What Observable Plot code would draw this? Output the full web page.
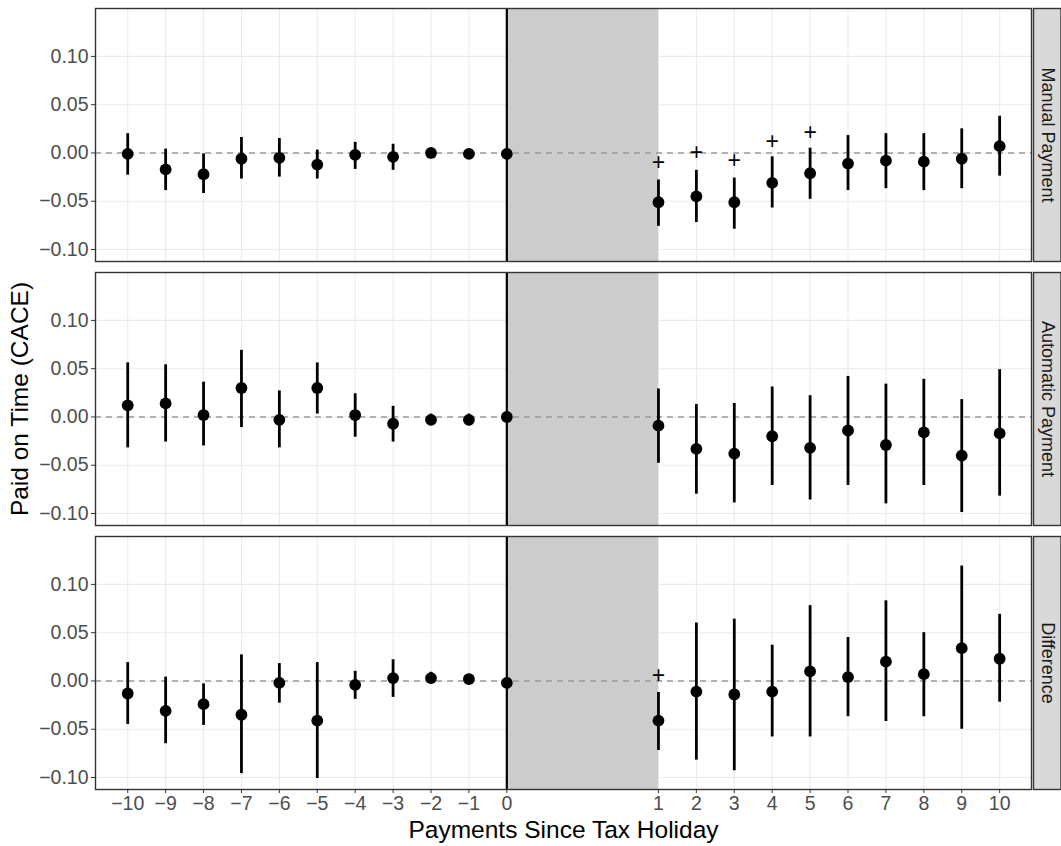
<!DOCTYPE html>
<html>
<head>
<meta charset="utf-8">
<script src="https://cdn.jsdelivr.net/npm/d3@7"></script>
<script src="https://cdn.jsdelivr.net/npm/@observablehq/plot@0.6"></script>
<style>
  html, body { margin: 0; padding: 0; background: #fff; }
  #chart { width: 1061px; height: 846px; }
</style>
</head>
<body>
<div id="chart"></div>
<script>
// ---- Data ----
const panels = ["Manual Payment", "Automatic Payment", "Difference"];
const periods = [-10, -9, -8, -7, -6, -5, -4, -3, -2, -1, 0, 1, 2, 3, 4, 5, 6, 7, 8, 9, 10];

const manualEst = [-0.001, -0.017, -0.022, -0.006, -0.005, -0.012, -0.002, -0.004, 0.000, -0.001, -0.001,
                   -0.051, -0.045, -0.051, -0.031, -0.021, -0.011, -0.008, -0.009, -0.006, 0.007];
const manualLo  = [-0.023, -0.039, -0.042, -0.027, -0.025, -0.027, -0.017, -0.018, -0.002, -0.003, null,
                   -0.076, -0.072, -0.079, -0.057, -0.048, -0.039, -0.037, -0.039, -0.037, -0.024];
const manualHi  = [0.020, 0.004, -0.001, 0.016, 0.015, 0.003, 0.011, 0.009, 0.002, 0.001, null,
                   -0.028, -0.018, -0.026, -0.004, 0.005, 0.018, 0.020, 0.020, 0.025, 0.038];

const autoEst = [0.012, 0.014, 0.002, 0.030, -0.003, 0.030, 0.002, -0.007, -0.003, -0.003, 0.000,
                 -0.009, -0.033, -0.038, -0.020, -0.032, -0.014, -0.029, -0.016, -0.040, -0.017];
const autoLo  = [-0.032, -0.026, -0.030, -0.011, -0.032, 0.003, -0.021, -0.026, -0.009, -0.009, null,
                 -0.048, -0.080, -0.089, -0.071, -0.086, -0.071, -0.090, -0.071, -0.099, -0.082];
const autoHi  = [0.056, 0.054, 0.036, 0.069, 0.027, 0.056, 0.024, 0.011, 0.003, 0.003, null,
                 0.029, 0.013, 0.014, 0.031, 0.022, 0.042, 0.034, 0.039, 0.018, 0.049];

const diffEst = [-0.013, -0.031, -0.024, -0.035, -0.002, -0.041, -0.004, 0.003, 0.003, 0.002, -0.002,
                 -0.041, -0.011, -0.014, -0.011, 0.010, 0.004, 0.020, 0.007, 0.034, 0.023];
const diffLo  = [-0.045, -0.065, -0.046, -0.096, -0.023, -0.101, -0.019, -0.017, -0.002, -0.003, null,
                 -0.072, -0.082, -0.093, -0.058, -0.058, -0.037, -0.042, -0.037, -0.050, -0.022];
const diffHi  = [0.019, 0.004, -0.003, 0.027, 0.018, 0.019, 0.010, 0.022, 0.009, 0.007, null,
                 -0.012, 0.060, 0.064, 0.037, 0.078, 0.045, 0.083, 0.050, 0.119, 0.069];

// significance markers ("+")
const manualPlusPeriods = [1, 2, 3, 4, 5];
const manualPlusY = [-0.010, 0.000, -0.008, 0.012, 0.021];
const diffPlusPeriods = [1];
const diffPlusY = [0.006];

const yTicks = [-0.10, -0.05, 0.00, 0.05, 0.10];
const yTickLabels = ["−0.10", "−0.05", "0.00", "0.05", "0.10"];
const xTickLabels = ["−10", "−9", "−8", "−7", "−6", "−5", "−4", "−3", "−2", "−1", "0",
                     "1", "2", "3", "4", "5", "6", "7", "8", "9", "10"];

// ---- Layout helpers ----
// post-holiday payments are drawn after a gap (holiday window between 0 and 1)
const gap = 3;
const pos = v => v > 0 ? v + gap : v;

const series = [
  [manualEst, manualLo, manualHi],
  [autoEst, autoLo, autoHi],
  [diffEst, diffLo, diffHi]
];
const rows = [];
panels.forEach((p, k) => {
  const [e, lo, hi] = series[k];
  periods.forEach((t, i) => rows.push({panel: p, period: t, x: pos(t), est: e[i], lo: lo[i], hi: hi[i]}));
});
const plusRows = [
  ...manualPlusPeriods.map((t, i) => ({panel: panels[0], x: pos(t), y: manualPlusY[i]})),
  ...diffPlusPeriods.map((t, i) => ({panel: panels[2], x: pos(t), y: diffPlusY[i]}))
];
const xTickPos = periods.map(pos);
const xLabelOf = new Map(xTickPos.map((p, i) => [p, xTickLabels[i]]));
const yLabelOf = new Map(yTicks.map((v, i) => [v, yTickLabels[i]]));

const W = 1061, H = 846;
const mL = 95, mR = 30, mT = 8, mB = 57;
const innerW = W - mL - mR;
const font = "'Liberation Sans', Arial, Helvetica, sans-serif";

const chart = Plot.plot({
  width: W,
  height: H,
  marginLeft: mL,
  marginRight: mR,
  marginTop: mT,
  marginBottom: mB,
  style: {fontFamily: font, background: "#fff", overflow: "visible"},
  x: {domain: [-10.85, 13.84], axis: null},
  y: {domain: [-0.1124, 0.1496], axis: null},
  fy: {domain: panels, paddingInner: 0.043, paddingOuter: 0, axis: null, label: null},
  marks: [
    Plot.gridX(xTickPos, {stroke: "#ebebeb", strokeOpacity: 1, strokeWidth: 1.1}),
    Plot.gridY(yTicks, {stroke: "#ebebeb", strokeOpacity: 1, strokeWidth: 1.1}),
    Plot.rect([{x1: pos(0), x2: pos(1)}], {x1: "x1", x2: "x2", fill: "#cccccc"}),
    Plot.ruleY([0], {stroke: "#999999", strokeWidth: 1.4, strokeDasharray: "6,5"}),
    Plot.ruleX([0], {stroke: "#000", strokeWidth: 2.2}),
    Plot.ruleX(rows.filter(d => d.lo != null), {x: "x", y1: "lo", y2: "hi", fy: "panel", stroke: "#000", strokeWidth: 2.8}),
    Plot.dot(rows, {x: "x", y: "est", fy: "panel", r: 5.9, fill: "#000", stroke: null}),
    Plot.text(plusRows, {x: "x", y: "y", fy: "panel", text: () => "+", fontSize: 23, fill: "#000"}),
    Plot.frame({stroke: "#333", strokeWidth: 1.4}),
    // facet strips
    Plot.frame({fill: "#d9d9d9", stroke: "#333", strokeWidth: 1.4, insetLeft: innerW + 2, insetRight: -29.5}),
    Plot.text(panels, {fy: d => d, text: d => d, frameAnchor: "right", textAnchor: "middle", lineAnchor: "middle",
                       dx: 16, rotate: 90, fontSize: 18, fill: "#1a1a1a"}),
    // y axes per facet
    Plot.axisY({ticks: yTicks, tickFormat: v => yLabelOf.get(v), tickSize: 4, tickPadding: 3, fontSize: 19.5,
                stroke: "#333", fill: "#4d4d4d", label: null}),
    // x axis (bottom)
    Plot.axisX({ticks: xTickPos, tickFormat: p => xLabelOf.get(p), tickSize: 4, tickPadding: 3, fontSize: 19.5,
                stroke: "#333", fill: "#4d4d4d", label: null, anchor: "bottom"}),
    // axis titles
    Plot.text(["Payments Since Tax Holiday"], {fy: () => panels[2], text: d => d, frameAnchor: "bottom",
                textAnchor: "middle", lineAnchor: "middle", dy: 41, fontSize: 24.5, fill: "#000"}),
    Plot.text(["Paid on Time (CACE)"], {fy: () => panels[1], text: d => d, frameAnchor: "left",
                textAnchor: "middle", lineAnchor: "middle", dx: -75, rotate: -90, fontSize: 24.5, fill: "#000"})
  ]
});
document.getElementById("chart").appendChild(chart);
</script>
</body>
</html>
